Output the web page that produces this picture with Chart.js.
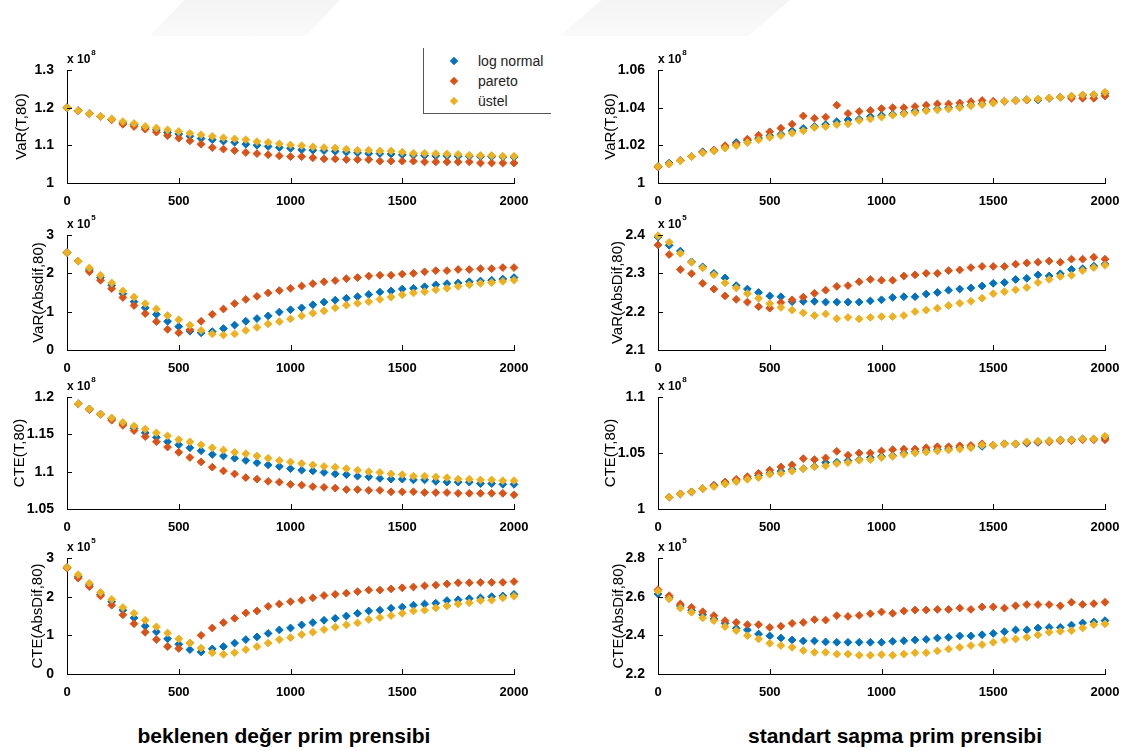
<!DOCTYPE html>
<html lang="tr">
<head>
<meta charset="utf-8">
<title>VaR ve CTE karşılaştırması</title>
<script src="https://cdn.jsdelivr.net/npm/chart.js@4.4.1/dist/chart.umd.min.js"></script>
<style>
  html, body { margin: 0; padding: 0; background: #fff; }
  body { width: 1128px; height: 751px; position: relative; overflow: hidden;
         font-family: "Liberation Sans", Arial, Helvetica, sans-serif; }
  .panel { position: absolute; }
  .mark { position: absolute; top: 0; height: 36px; background: linear-gradient(#f4f4f4, #fafafa);
          clip-path: polygon(18% 0, 100% 0, 82% 100%, 0 100%); }
  .legend { position: absolute; left: 423px; top: 48px; width: 127px; height: 65px;
            border-left: 1px solid #555; border-bottom: 1px solid #555; background: #fff; z-index: 5; }
  .legend .item { position: absolute; left: 0; width: 127px; height: 18px; }
  .legend .mk { position: absolute; left: 27px; top: 6px; width: 6px; height: 6px; transform: rotate(45deg); }
  .legend .tx { position: absolute; left: 54px; top: 0; font-size: 14px; line-height: 18px; color: #222; white-space: nowrap; }
  .caption { position: absolute; top: 724px; font-weight: bold; font-size: 21px; color: #000;
             white-space: nowrap; transform: translateX(-50%); }
</style>
</head>
<body>

<div class="mark" style="left:150px;width:190px"></div>
<div class="mark" style="left:560px;width:230px"></div>

<div class="caption" style="left:284px">beklenen değer prim prensibi</div>
<div class="caption" style="left:895px">standart sapma prim prensibi</div>

<script>
// ---------- x values ----------
const X_FROM_0 = [0, 50, 100, 150, 200, 250, 300, 350, 400, 450, 500, 550, 600, 650, 700, 750, 800, 850, 900, 950,
  1000, 1050, 1100, 1150, 1200, 1250, 1300, 1350, 1400, 1450, 1500, 1550, 1600, 1650, 1700, 1750, 1800, 1850, 1900, 1950, 2000];
const X_FROM_50 = [50, 100, 150, 200, 250, 300, 350, 400, 450, 500, 550, 600, 650, 700, 750, 800, 850, 900, 950,
  1000, 1050, 1100, 1150, 1200, 1250, 1300, 1350, 1400, 1450, 1500, 1550, 1600, 1650, 1700, 1750, 1800, 1850, 1900, 1950, 2000];
const X_TICKS = [0, 500, 1000, 1500, 2000];

// ---------- series ----------
const SERIES_NAMES = ['log normal', 'pareto', 'üstel'];
const SERIES_COLORS = ['#0072BD', '#D95319', '#EDB120'];

// VaR(T,80), beklenen değer prim prensibi (x 10^8)
const varT_bek_lognormal = [1.200,1.192,1.184,1.177,1.169,1.160,1.155,1.147,1.141,1.134,1.130,1.124,1.118,1.115,1.111,1.108,1.103,1.100,1.097,1.094,1.092,1.088,1.087,1.086,1.084,1.082,1.080,1.078,1.078,1.077,1.075,1.074,1.073,1.072,1.072,1.071,1.071,1.070,1.070,1.069,1.069];
const varT_bek_pareto    = [1.200,1.192,1.184,1.177,1.168,1.156,1.150,1.143,1.135,1.126,1.119,1.112,1.103,1.094,1.090,1.086,1.081,1.078,1.075,1.072,1.070,1.070,1.067,1.064,1.064,1.062,1.062,1.062,1.058,1.058,1.058,1.058,1.056,1.056,1.056,1.056,1.056,1.053,1.053,1.053,1.053];
const varT_bek_ustel     = [1.200,1.192,1.184,1.177,1.170,1.163,1.158,1.150,1.146,1.141,1.137,1.132,1.128,1.124,1.120,1.117,1.115,1.110,1.108,1.104,1.101,1.099,1.096,1.094,1.093,1.090,1.087,1.087,1.085,1.085,1.082,1.079,1.079,1.078,1.077,1.076,1.074,1.073,1.073,1.071,1.071];

// VaR(T,80), standart sapma prim prensibi (x 10^8)
const varT_std_lognormal = [1.0088,1.0106,1.0120,1.0140,1.0166,1.0172,1.0190,1.0215,1.0225,1.0238,1.0251,1.0259,1.0277,1.0290,1.0300,1.0310,1.0326,1.0335,1.0339,1.0353,1.0360,1.0365,1.0372,1.0383,1.0388,1.0393,1.0400,1.0406,1.0413,1.0420,1.0428,1.0434,1.0440,1.0443,1.0441,1.0450,1.0456,1.0460,1.0466,1.0468,1.0475];
const varT_std_pareto    = [1.0085,1.0101,1.0120,1.0140,1.0162,1.0175,1.0198,1.0206,1.0233,1.0254,1.0272,1.0291,1.0312,1.0356,1.0344,1.0350,1.0413,1.0369,1.0380,1.0385,1.0395,1.0400,1.0400,1.0406,1.0413,1.0420,1.0420,1.0425,1.0432,1.0438,1.0434,1.0434,1.0436,1.0440,1.0446,1.0450,1.0455,1.0450,1.0450,1.0450,1.0462];
const varT_std_ustel     = [1.0088,1.0101,1.0118,1.0140,1.0160,1.0170,1.0185,1.0198,1.0215,1.0229,1.0242,1.0252,1.0265,1.0277,1.0295,1.0300,1.0310,1.0314,1.0332,1.0340,1.0350,1.0360,1.0367,1.0374,1.0383,1.0388,1.0393,1.0400,1.0410,1.0416,1.0424,1.0434,1.0438,1.0443,1.0446,1.0452,1.0455,1.0462,1.0468,1.0470,1.0482];

// VaR(AbsDif,80), beklenen değer prim prensibi (x 10^5)
const varAbs_bek_lognormal = [2.54,2.32,2.09,1.89,1.69,1.47,1.26,1.10,0.93,0.75,0.61,0.49,0.45,0.48,0.56,0.65,0.75,0.82,0.89,0.99,1.05,1.10,1.18,1.25,1.30,1.35,1.39,1.45,1.51,1.54,1.59,1.61,1.65,1.70,1.73,1.75,1.78,1.80,1.82,1.85,1.89];
const varAbs_bek_pareto    = [2.54,2.32,2.04,1.82,1.60,1.37,1.16,0.95,0.74,0.54,0.45,0.53,0.75,0.93,1.07,1.21,1.32,1.40,1.49,1.55,1.61,1.67,1.73,1.78,1.81,1.86,1.89,1.93,1.95,1.95,1.98,2.00,2.04,2.07,2.07,2.10,2.10,2.12,2.12,2.15,2.15];
const varAbs_bek_ustel     = [2.54,2.32,2.14,1.95,1.75,1.54,1.38,1.21,1.07,0.90,0.79,0.65,0.51,0.42,0.39,0.42,0.51,0.59,0.68,0.74,0.81,0.89,0.96,1.02,1.10,1.17,1.22,1.26,1.32,1.38,1.44,1.49,1.52,1.57,1.61,1.66,1.70,1.74,1.76,1.79,1.82];

// VaR(AbsDif,80), standart sapma prim prensibi (x 10^5)
const varAbs_std_lognormal = [2.395,2.373,2.358,2.330,2.317,2.300,2.288,2.268,2.259,2.250,2.241,2.239,2.226,2.227,2.227,2.225,2.225,2.225,2.225,2.228,2.231,2.237,2.239,2.239,2.246,2.250,2.256,2.259,2.262,2.267,2.274,2.276,2.284,2.287,2.296,2.293,2.299,2.310,2.312,2.319,2.324];
const varAbs_std_pareto    = [2.374,2.349,2.310,2.299,2.274,2.259,2.241,2.232,2.225,2.213,2.209,2.224,2.231,2.238,2.248,2.256,2.266,2.268,2.278,2.284,2.282,2.282,2.293,2.296,2.300,2.300,2.307,2.309,2.315,2.318,2.318,2.318,2.324,2.327,2.329,2.332,2.329,2.337,2.337,2.342,2.337];
const varAbs_std_ustel     = [2.398,2.381,2.352,2.329,2.314,2.296,2.275,2.262,2.247,2.235,2.221,2.211,2.204,2.197,2.190,2.194,2.182,2.185,2.181,2.185,2.187,2.187,2.190,2.200,2.204,2.209,2.216,2.222,2.227,2.235,2.247,2.252,2.257,2.263,2.276,2.284,2.292,2.295,2.307,2.315,2.321];

// CTE(T,80), beklenen değer prim prensibi (x 10^8), from 50
const cteT_bek_lognormal = [1.191,1.184,1.177,1.171,1.164,1.158,1.152,1.146,1.140,1.136,1.132,1.128,1.123,1.121,1.118,1.115,1.112,1.109,1.107,1.104,1.102,1.101,1.099,1.097,1.096,1.094,1.093,1.091,1.090,1.090,1.089,1.089,1.087,1.086,1.086,1.086,1.084,1.084,1.083,1.083];
const cteT_bek_pareto    = [1.191,1.183,1.177,1.169,1.162,1.155,1.147,1.140,1.133,1.126,1.119,1.113,1.106,1.101,1.097,1.092,1.090,1.087,1.086,1.083,1.082,1.080,1.079,1.078,1.076,1.076,1.075,1.075,1.073,1.073,1.073,1.072,1.072,1.072,1.071,1.071,1.071,1.071,1.071,1.069];
const cteT_bek_ustel     = [1.191,1.184,1.177,1.172,1.166,1.161,1.157,1.152,1.148,1.143,1.140,1.136,1.132,1.129,1.126,1.124,1.121,1.118,1.115,1.113,1.111,1.109,1.107,1.106,1.104,1.102,1.100,1.099,1.097,1.096,1.094,1.094,1.093,1.092,1.090,1.090,1.089,1.089,1.088,1.088];

// CTE(T,80), standart sapma prim prensibi (x 10^8), from 50
const cteT_std_lognormal = [1.0106,1.0135,1.0153,1.0182,1.0212,1.0230,1.0250,1.0275,1.0300,1.0320,1.0338,1.0353,1.0360,1.0380,1.0415,1.0418,1.0432,1.0441,1.0459,1.0470,1.0476,1.0500,1.0512,1.0524,1.0530,1.0535,1.0547,1.0553,1.0559,1.0570,1.0582,1.0580,1.0588,1.0594,1.0609,1.0618,1.0618,1.0626,1.0626,1.0635];
const cteT_std_pareto    = [1.0106,1.0135,1.0153,1.0182,1.0210,1.0241,1.0265,1.0288,1.0318,1.0347,1.0376,1.0394,1.0450,1.0441,1.0456,1.0515,1.0480,1.0500,1.0500,1.0518,1.0530,1.0535,1.0535,1.0547,1.0556,1.0556,1.0565,1.0568,1.0582,1.0570,1.0582,1.0582,1.0594,1.0600,1.0600,1.0609,1.0609,1.0618,1.0618,1.0618];
const cteT_std_ustel     = [1.0106,1.0135,1.0153,1.0182,1.0200,1.0224,1.0244,1.0265,1.0280,1.0310,1.0318,1.0338,1.0359,1.0376,1.0385,1.0406,1.0415,1.0435,1.0441,1.0459,1.0470,1.0488,1.0500,1.0509,1.0518,1.0526,1.0535,1.0547,1.0570,1.0570,1.0582,1.0582,1.0600,1.0606,1.0609,1.0618,1.0618,1.0626,1.0626,1.0650];

// CTE(AbsDif,80), beklenen değer prim prensibi (x 10^5)
const cteAbs_bek_lognormal = [2.76,2.52,2.30,2.06,1.87,1.65,1.45,1.24,1.09,0.91,0.77,0.63,0.57,0.65,0.71,0.80,0.89,0.96,1.05,1.14,1.19,1.27,1.33,1.39,1.44,1.50,1.57,1.63,1.65,1.70,1.73,1.78,1.81,1.83,1.90,1.92,1.95,1.97,2.00,2.02,2.06];
const cteAbs_bek_pareto    = [2.74,2.48,2.26,2.02,1.78,1.53,1.30,1.08,0.89,0.71,0.66,0.80,1.00,1.19,1.33,1.44,1.58,1.63,1.75,1.81,1.87,1.91,1.97,2.03,2.06,2.09,2.13,2.17,2.17,2.20,2.23,2.25,2.28,2.30,2.33,2.36,2.36,2.37,2.37,2.37,2.39];
const cteAbs_bek_ustel     = [2.76,2.57,2.35,2.11,1.93,1.72,1.57,1.39,1.22,1.06,0.91,0.80,0.67,0.55,0.51,0.55,0.63,0.71,0.80,0.89,0.94,1.02,1.08,1.15,1.21,1.27,1.32,1.41,1.46,1.51,1.57,1.63,1.65,1.71,1.76,1.81,1.84,1.90,1.91,1.97,2.01];

// CTE(AbsDif,80), standart sapma prim prensibi (x 10^5)
const cteAbs_std_lognormal = [2.614,2.595,2.552,2.530,2.507,2.485,2.462,2.436,2.428,2.407,2.397,2.386,2.376,2.371,2.371,2.366,2.364,2.364,2.364,2.364,2.364,2.369,2.372,2.376,2.379,2.386,2.390,2.397,2.397,2.403,2.410,2.419,2.428,2.428,2.438,2.441,2.441,2.453,2.464,2.469,2.476];
const cteAbs_std_pareto    = [2.636,2.605,2.562,2.545,2.522,2.502,2.476,2.467,2.455,2.455,2.441,2.447,2.462,2.467,2.481,2.479,2.502,2.498,2.503,2.512,2.521,2.514,2.526,2.531,2.531,2.534,2.534,2.541,2.534,2.547,2.547,2.541,2.553,2.559,2.559,2.559,2.553,2.571,2.560,2.564,2.571];
const cteAbs_std_ustel     = [2.628,2.588,2.541,2.519,2.490,2.476,2.445,2.424,2.398,2.381,2.359,2.347,2.338,2.321,2.312,2.312,2.303,2.303,2.297,2.297,2.300,2.297,2.303,2.310,2.310,2.319,2.329,2.338,2.347,2.352,2.364,2.376,2.381,2.390,2.402,2.416,2.421,2.424,2.438,2.455,2.459];

// ---------- y tick values ----------
const yTicks_varT_bek   = [1, 1.1, 1.2, 1.3];
const yTicks_varT_std   = [1, 1.02, 1.04, 1.06];
const yTicks_varAbs_bek = [0, 1, 2, 3];
const yTicks_varAbs_std = [2.1, 2.2, 2.3, 2.4];
const yTicks_cteT_bek   = [1.05, 1.1, 1.15, 1.2];
const yTicks_cteT_std   = [1, 1.05, 1.1];
const yTicks_cteAbs_bek = [0, 1, 2, 3];
const yTicks_cteAbs_std = [2.2, 2.4, 2.6, 2.8];

// ---------- panel layout ----------
const FONT = '"Liberation Sans", Arial, Helvetica, sans-serif';
const COLUMNS = [ { left: 0, axisX: 67 }, { left: 590, axisX: 658 } ];
const PLOT_W = 447, PAD_TOP = 24, PAD_RIGHT = 24, AXIS_BELOW = 30;

const panels = [
  { col: 0, top: 70,  bottom: 183, ticks: yTicks_varT_bek,   exp: '8', title: 'VaR(T,80)',       titleX: 22,  xs: X_FROM_0,  series: [varT_bek_lognormal, varT_bek_pareto, varT_bek_ustel] },
  { col: 1, top: 70,  bottom: 183, ticks: yTicks_varT_std,   exp: '8', title: 'VaR(T,80)',       titleX: 611, xs: X_FROM_0,  series: [varT_std_lognormal, varT_std_pareto, varT_std_ustel] },
  { col: 0, top: 235, bottom: 350, ticks: yTicks_varAbs_bek, exp: '5', title: 'VaR(Absdif,80)',  titleX: 39,  xs: X_FROM_0,  series: [varAbs_bek_lognormal, varAbs_bek_pareto, varAbs_bek_ustel] },
  { col: 1, top: 235, bottom: 350, ticks: yTicks_varAbs_std, exp: '5', title: 'VaR(AbsDif,80)',  titleX: 618, xs: X_FROM_0,  series: [varAbs_std_lognormal, varAbs_std_pareto, varAbs_std_ustel] },
  { col: 0, top: 397, bottom: 509, ticks: yTicks_cteT_bek,   exp: '8', title: 'CTE(T,80)',       titleX: 20,  xs: X_FROM_50, series: [cteT_bek_lognormal, cteT_bek_pareto, cteT_bek_ustel] },
  { col: 1, top: 397, bottom: 509, ticks: yTicks_cteT_std,   exp: '8', title: 'CTE(T,80)',       titleX: 611, xs: X_FROM_50, series: [cteT_std_lognormal, cteT_std_pareto, cteT_std_ustel] },
  { col: 0, top: 558, bottom: 674, ticks: yTicks_cteAbs_bek, exp: '5', title: 'CTE(AbsDif,80)',  titleX: 38,  xs: X_FROM_0,  series: [cteAbs_bek_lognormal, cteAbs_bek_pareto, cteAbs_bek_ustel] },
  { col: 1, top: 558, bottom: 674, ticks: yTicks_cteAbs_std, exp: '5', title: 'CTE(AbsDif,80)',  titleX: 619, xs: X_FROM_0,  series: [cteAbs_std_lognormal, cteAbs_std_pareto, cteAbs_std_ustel] }
];

const fmt = v => String(parseFloat(Number(v).toFixed(4)));

// Inward tick marks and the "x 10^n" multiplier above each y axis
const axisDecor = {
  id: 'axisDecor',
  afterDraw(chart, args, opts) {
    const { ctx, chartArea: a, scales: { x, y } } = chart;
    ctx.save();
    ctx.strokeStyle = '#000';
    ctx.lineWidth = 1;
    ctx.beginPath();
    x.ticks.forEach(t => {
      const px = Math.round(x.getPixelForValue(t.value)) + 0.5;
      ctx.moveTo(px, a.bottom); ctx.lineTo(px, a.bottom - 5);
    });
    y.ticks.forEach(t => {
      const py = Math.round(y.getPixelForValue(t.value)) + 0.5;
      ctx.moveTo(a.left, py); ctx.lineTo(a.left + 5, py);
    });
    ctx.stroke();
    ctx.fillStyle = '#000';
    ctx.textBaseline = 'alphabetic';
    ctx.textAlign = 'left';
    ctx.font = 'bold 12px ' + FONT;
    const base = 'x 10';
    ctx.fillText(base, a.left, a.top - 7);
    const w = ctx.measureText(base).width;
    ctx.font = 'bold 8px ' + FONT;
    ctx.fillText(opts.exp, a.left + w + 1, a.top - 15);
    ctx.restore();
  }
};

function makePanel(p) {
  const col = COLUMNS[p.col];
  const yAxisW = col.axisX - col.left;
  const W = yAxisW + PLOT_W + PAD_RIGHT;
  const H = PAD_TOP + (p.bottom - p.top) + AXIS_BELOW;

  const holder = document.createElement('div');
  holder.className = 'panel';
  holder.style.left = col.left + 'px';
  holder.style.top = (p.top - PAD_TOP) + 'px';
  holder.style.width = W + 'px';
  holder.style.height = H + 'px';
  const cv = document.createElement('canvas');
  cv.width = W; cv.height = H;
  cv.style.width = W + 'px'; cv.style.height = H + 'px';
  holder.appendChild(cv);
  document.body.appendChild(holder);

  const titleFont = 15;
  const titlePad = p.titleX - col.left - titleFont * 1.2 / 2;

  new Chart(cv, {
    type: 'scatter',
    data: {
      datasets: SERIES_NAMES.map((name, k) => ({
        label: name,
        data: p.xs.map((xv, i) => ({ x: xv, y: p.series[k][i] })),
        pointStyle: 'rectRot',
        pointRadius: 3.9,
        pointBorderWidth: 1,
        backgroundColor: SERIES_COLORS[k],
        borderColor: SERIES_COLORS[k],
        showLine: false,
        clip: false,
        order: SERIES_NAMES.length - k
      }))
    },
    options: {
      responsive: false,
      animation: false,
      devicePixelRatio: 1,
      layout: { padding: { top: PAD_TOP, right: PAD_RIGHT, left: 0, bottom: 0 } },
      events: [],
      plugins: { legend: { display: false }, tooltip: { enabled: false }, axisDecor: { exp: p.exp } },
      scales: {
        x: {
          type: 'linear', min: 0, max: 2000,
          afterBuildTicks: s => { s.ticks = X_TICKS.map(v => ({ value: v })); },
          afterFit: s => { s.height = AXIS_BELOW; },
          grid: { display: false },
          border: { display: true, color: '#000', width: 1 },
          ticks: { color: '#000', font: { family: FONT, size: 13, weight: 'bold' }, padding: 3,
                   maxRotation: 0, autoSkip: false, callback: v => fmt(v) }
        },
        y: {
          type: 'linear', min: p.ticks[0], max: p.ticks[p.ticks.length - 1],
          afterBuildTicks: s => { s.ticks = p.ticks.map(v => ({ value: v })); },
          afterFit: s => { s.width = yAxisW; },
          grid: { display: false },
          border: { display: true, color: '#000', width: 1 },
          ticks: { color: '#000', font: { family: FONT, size: 14, weight: 'bold' }, padding: 5,
                   autoSkip: false, callback: v => fmt(v) },
          title: { display: true, text: p.title, color: '#000',
                   font: { family: FONT, size: titleFont, weight: 'normal' },
                   padding: { top: titlePad, bottom: 0 } }
        }
      }
    },
    plugins: [axisDecor]
  });
}

panels.forEach(makePanel);

// Legend of the first panel
const legend = document.createElement('div');
legend.className = 'legend';
SERIES_NAMES.forEach((name, k) => {
  const item = document.createElement('div');
  item.className = 'item';
  item.style.top = (4 + k * 20) + 'px';
  const mk = document.createElement('div');
  mk.className = 'mk';
  mk.style.background = SERIES_COLORS[k];
  const tx = document.createElement('div');
  tx.className = 'tx';
  tx.textContent = name;
  item.appendChild(mk); item.appendChild(tx);
  legend.appendChild(item);
});
document.body.appendChild(legend);
</script>
</body>
</html>
